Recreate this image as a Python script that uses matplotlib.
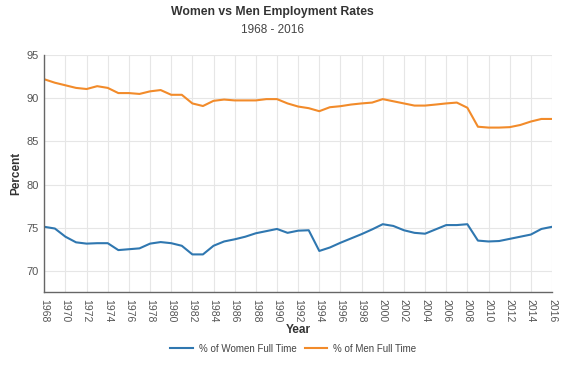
import matplotlib
matplotlib.use("Agg")
import matplotlib.pyplot as plt

plt.rcParams["font.family"] = ["Liberation Sans", "DejaVu Sans"]

# Data
years = list(range(1968, 2017))
women_full_time = [
    75.1, 74.9, 73.95, 73.3, 73.15, 73.2, 73.2, 72.4, 72.5, 72.6,
    73.15, 73.33, 73.2, 72.9, 71.9, 71.9, 72.9, 73.4, 73.65, 73.95,
    74.35, 74.6, 74.85, 74.4, 74.65, 74.7, 72.3, 72.7, 73.25, 73.75,
    74.25, 74.8, 75.4, 75.2, 74.7, 74.4, 74.3, 74.8, 75.3, 75.3,
    75.4, 73.5, 73.4, 73.45, 73.7, 73.95, 74.2, 74.85, 75.1,
]
men_full_time = [
    92.2, 91.8, 91.5, 91.2, 91.07, 91.4, 91.2, 90.6, 90.6, 90.5,
    90.8, 90.95, 90.4, 90.4, 89.4, 89.1, 89.7, 89.85, 89.75, 89.75,
    89.75, 89.9, 89.9, 89.4, 89.04, 88.85, 88.5, 88.96, 89.08, 89.27,
    89.4, 89.5, 89.9, 89.65, 89.4, 89.15, 89.15, 89.27, 89.4, 89.5,
    88.9, 86.7, 86.6, 86.6, 86.65, 86.9, 87.3, 87.6, 87.6,
]
x_ticks = list(range(1968, 2017, 2))
y_ticks = [70, 75, 80, 85, 90, 95]

fig = plt.figure(figsize=(5.73, 3.65), dpi=100)
ax = fig.add_axes([0.0773, 0.199, 0.886, 0.65])

ax.plot(years, women_full_time, color="#2f77b0", linewidth=1.5, label="% of Women Full Time")
ax.plot(years, men_full_time, color="#f28b2a", linewidth=1.5, label="% of Men Full Time")

ax.set_xlim(1968, 2016)
ax.set_ylim(67.5, 95)
ax.set_xticks(x_ticks)
ax.set_yticks(y_ticks)
ax.tick_params(axis="x", labelrotation=-90, labelsize=7.5, colors="#555555", length=0, pad=5)
ax.tick_params(axis="y", labelsize=8, colors="#555555", length=0, pad=4)
ax.grid(True, color="#e6e6e6", linewidth=0.8)
ax.set_axisbelow(True)

for side in ["top", "right"]:
    ax.spines[side].set_visible(False)
for side in ["left", "bottom"]:
    ax.spines[side].set_color("#666666")
    ax.spines[side].set_linewidth(1.0)

ax.set_xlabel("Year", fontsize=8.5, fontweight="bold", color="#333333", labelpad=1)
ax.set_ylabel("Percent", fontsize=8.5, fontweight="bold", color="#333333", labelpad=3)

fig.text(0.475, 0.968, "Women vs Men Employment Rates", ha="center", va="center",
         fontsize=8.8, fontweight="bold", color="#333333")
fig.text(0.475, 0.918, "1968 - 2016", ha="center", va="center",
         fontsize=8.5, color="#444444")

fig.legend(loc="center", bbox_to_anchor=(0.512, 0.045), ncol=2, frameon=False,
           fontsize=7, handlelength=2.3, handletextpad=0.6, columnspacing=0.9,
           labelcolor="#444444")

fig.savefig("out.png", dpi=100)
